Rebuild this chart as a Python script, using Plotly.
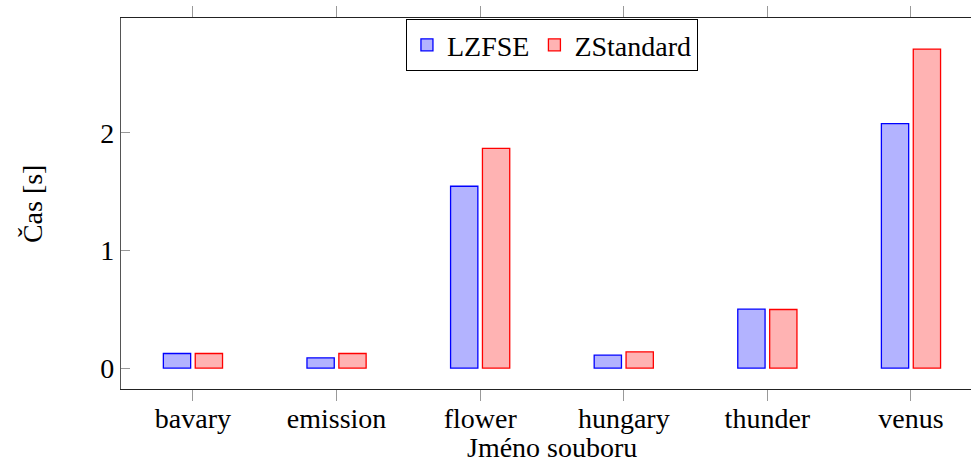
import plotly.graph_objects as go

categories = ["bavary", "emission", "flower", "hungary", "thunder", "venus"]
lzfse = [0.124, 0.087, 1.546, 0.110, 0.501, 2.078]
zstd = [0.124, 0.124, 1.869, 0.138, 0.498, 2.713]
y_ticks = [0, 1, 2]

FONT = "Liberation Serif, Times New Roman, serif"
FS = 28

fig = go.Figure()
fig.add_trace(go.Bar(
    x=categories, y=lzfse, name="LZFSE",
    marker=dict(color="rgb(179,179,255)", line=dict(color="rgb(0,0,255)", width=1.3)),
    width=0.19, offset=-0.206,
))
fig.add_trace(go.Bar(
    x=categories, y=zstd, name="ZStandard",
    marker=dict(color="rgb(255,179,179)", line=dict(color="rgb(255,0,0)", width=1.3)),
    width=0.19, offset=0.016,
))

fig.update_layout(
    width=971, height=462,
    margin=dict(l=121, r=0, t=18, b=73),
    paper_bgcolor="white", plot_bgcolor="white",
    font=dict(family=FONT, size=FS, color="black"),
    barmode="overlay",
    showlegend=True,
    legend=dict(
        orientation="h", x=0.507, xanchor="center", y=0.997, yanchor="top",
        bgcolor="white", bordercolor="black", borderwidth=1,
        font=dict(family=FONT, size=FS, color="black"), itemwidth=30,
        tracegroupgap=0,
    ),
    xaxis=dict(
        type="category", range=[-0.501, 5.418],
        showline=True, linecolor="#222", linewidth=1.2, mirror="ticks",
        ticks="outside", ticklen=11, tickcolor="#999", tickwidth=1.2,
        showgrid=False, zeroline=False,
        tickfont=dict(family=FONT, size=FS, color="black"),
        ticklabelstandoff=-7,
    ),
    yaxis=dict(
        range=[-0.178, 2.977], tickvals=y_ticks,
        showline=True, linecolor="#555", linewidth=1.2,
        ticks="inside", ticklen=9, tickcolor="#999", tickwidth=1.2,
        showgrid=False, zeroline=False,
        tickfont=dict(family=FONT, size=FS, color="black"),
    ),
    annotations=[
        dict(text="Jméno souboru", xref="paper", yref="paper",
             x=0.5065, y=-0.158, xanchor="center", yanchor="middle",
             showarrow=False, font=dict(family=FONT, size=FS, color="black")),
        dict(text="Čas [s]", xref="paper", yref="paper", textangle=-90,
             x=-0.104, y=0.5, xanchor="center", yanchor="middle",
             showarrow=False, font=dict(family=FONT, size=FS, color="black")),
    ],
)

fig.write_html("out.html")
